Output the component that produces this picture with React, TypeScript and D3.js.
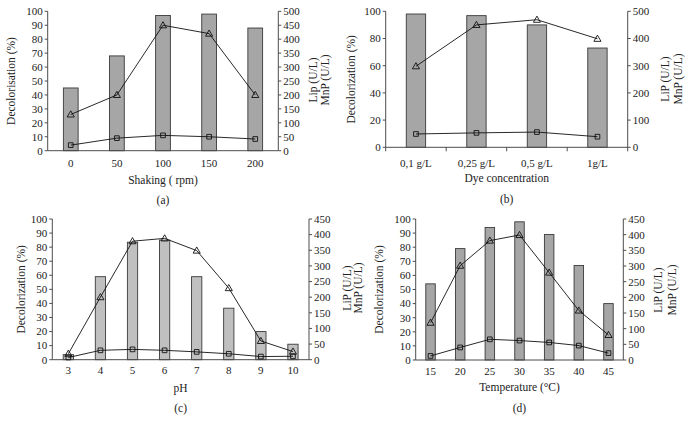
import React from "react";
import * as d3 from "d3";

// ---------- data ----------
const aCategories = ["0", "50", "100", "150", "200"];
const aDecol = [45, 68, 97, 98, 88];
const aLiP = [130, 200, 450, 420, 200];
const aMnP = [20, 45, 55, 50, 42];

const bCategories = ["0,1 g/L", "0,25 g/L", "0,5 g/L", "1g/L"];
const bDecol = [98, 96.8, 90, 73];
const bLiP = [298, 450, 469, 399];
const bMnP = [49, 53, 56, 39];

const cCategories = ["3", "4", "5", "6", "7", "8", "9", "10"];
const cDecol = [3.6, 59, 83.5, 85, 59, 36.6, 20, 11];
const cLiP = [19, 200, 379, 388, 349, 229, 60, 26];
const cMnP = [7, 30, 33, 30, 25, 19, 10, 11];

const dCategories = ["15", "20", "25", "30", "35", "40", "45"];
const dDecol = [54, 79, 94, 98, 89, 67, 40];
const dLiP = [119, 301, 381, 399, 279, 158, 80];
const dMnP = [13, 40, 66, 62, 56, 46, 22];

const leftTicksA = d3.range(0, 101, 10);
const rightTicksA = d3.range(0, 501, 50);
const leftTicksB = d3.range(0, 101, 20);
const rightTicksB = d3.range(0, 501, 100);
const leftTicksCD = d3.range(0, 101, 10);
const rightTicksCD = d3.range(0, 451, 50);

// ---------- layout ----------
type Panel = {
  cats: string[];
  decol: number[];
  lip: number[];
  mnp: number[];
  leftTicks: number[];
  rightTicks: number[];
  rightMax: number;
  x0: number; x1: number; y0: number; y1: number;
  barFill: string;
  xTicks: boolean;
  tickLabelY: number;
  xTitle: string; xTitleY: number;
  caption: string; captionY: number;
  yTitle: string; yTitleX: number;
  rTitle1: string; rTitle2: string; rTitleX1: number; rTitleX2: number; rTitleY: number;
};

const panels: Panel[] = [
  {
    cats: aCategories, decol: aDecol, lip: aLiP, mnp: aMnP,
    leftTicks: leftTicksA, rightTicks: rightTicksA, rightMax: 500,
    x0: 47.7, x1: 278.3, y0: 11.3, y1: 150.7,
    barFill: "#a6a6a6", xTicks: false, tickLabelY: 163,
    xTitle: "Shaking ( rpm)", xTitleY: 180,
    caption: "(a)", captionY: 200,
    yTitle: "Decolorisation (%)", yTitleX: 11,
    rTitle1: "Lip (U/L)", rTitle2: "MnP (U/L)", rTitleX1: 312.5, rTitleX2: 324.5, rTitleY: 80,
  },
  {
    cats: bCategories, decol: bDecol, lip: bLiP, mnp: bMnP,
    leftTicks: leftTicksB, rightTicks: rightTicksB, rightMax: 500,
    x0: 385.7, x1: 627.7, y0: 11.3, y1: 147.3,
    barFill: "#a6a6a6", xTicks: true, tickLabelY: 163,
    xTitle: "Dye concentration", xTitleY: 178,
    caption: "(b)", captionY: 199,
    yTitle: "Decolorization (%)", yTitleX: 351,
    rTitle1: "LiP (U/L)", rTitle2: "MnP (U/L)", rTitleX1: 665, rTitleX2: 678, rTitleY: 79,
  },
  {
    cats: cCategories, decol: cDecol, lip: cLiP, mnp: cMnP,
    leftTicks: leftTicksCD, rightTicks: rightTicksCD, rightMax: 450,
    x0: 52.3, x1: 309, y0: 219, y1: 359.7,
    barFill: "#c0c0c0", xTicks: false, tickLabelY: 370.5,
    xTitle: "pH", xTitleY: 387.5,
    caption: "(c)", captionY: 407.7,
    yTitle: "Decolorization (%)", yTitleX: 21,
    rTitle1: "LiP (U/L)", rTitle2: "MnP (U/L)", rTitleX1: 346.7, rTitleX2: 357.5, rTitleY: 288,
  },
  {
    cats: dCategories, decol: dDecol, lip: dLiP, mnp: dMnP,
    leftTicks: leftTicksCD, rightTicks: rightTicksCD, rightMax: 450,
    x0: 415.7, x1: 623.3, y0: 219, y1: 360,
    barFill: "#a6a6a6", xTicks: false, tickLabelY: 371,
    xTitle: "Temperature (°C)", xTitleY: 386.7,
    caption: "(d)", captionY: 407.7,
    yTitle: "Decolorization (%)", yTitleX: 379.3,
    rTitle1: "LiP (U/L)", rTitle2: "MnP (U/L)", rTitleX1: 658.3, rTitleX2: 671.7, rTitleY: 290,
  },
];

const FONT = "'Liberation Serif', 'Times New Roman', serif";
const AXIS = "#4d4d4d";
const TXT = "#222";

function ChartPanel({ p }: { p: Panel }) {
  const x = d3.scaleBand<string>().domain(p.cats).range([p.x0, p.x1]).paddingInner(0).paddingOuter(0);
  const yL = d3.scaleLinear().domain([0, 100]).range([p.y1, p.y0]);
  const yR = d3.scaleLinear().domain([0, p.rightMax]).range([p.y1, p.y0]);
  const bw = x.bandwidth() * 0.32;
  const cx = (c: string) => (x(c) as number) + x.bandwidth() / 2;
  const line = d3.line<number>().x((_, i) => cx(p.cats[i])).y((v) => yR(v));
  const midX = (p.x0 + p.x1) / 2;
  const midY = (p.y0 + p.y1) / 2;
  const tri = d3.symbol().type(d3.symbolTriangle).size(22)();
  const sq = d3.symbol().type(d3.symbolSquare).size(22)();

  return (
    <g fontFamily={FONT} fill={TXT}>
      {/* bars */}
      {p.decol.map((v, i) => (
        <rect
          key={"b" + i}
          x={cx(p.cats[i]) - bw / 2}
          y={yL(v)}
          width={bw}
          height={yL(0) - yL(v)}
          fill={p.barFill}
          stroke="#3a3a3a"
          strokeWidth={0.9}
        />
      ))}
      {/* axes */}
      <line x1={p.x0} x2={p.x0} y1={p.y0} y2={p.y1} stroke={AXIS} strokeWidth={1} />
      <line x1={p.x1} x2={p.x1} y1={p.y0} y2={p.y1} stroke={AXIS} strokeWidth={1} />
      <line x1={p.x0} x2={p.x1} y1={p.y1} y2={p.y1} stroke={AXIS} strokeWidth={1} />
      {p.leftTicks.map((t) => (
        <g key={"l" + t}>
          <line x1={p.x0 - 3} x2={p.x0} y1={yL(t)} y2={yL(t)} stroke={AXIS} />
          <text x={p.x0 - 5} y={yL(t)} dy="0.35em" textAnchor="end" fontSize={11}>{t}</text>
        </g>
      ))}
      {p.rightTicks.map((t) => (
        <g key={"r" + t}>
          <line x1={p.x1} x2={p.x1 + 3} y1={yR(t)} y2={yR(t)} stroke={AXIS} />
          <text x={p.x1 + 5} y={yR(t)} dy="0.35em" textAnchor="start" fontSize={11}>{t}</text>
        </g>
      ))}
      {p.xTicks &&
        [...p.cats.map((c) => x(c) as number), p.x1].map((v, i) => (
          <line key={"xt" + i} x1={v} x2={v} y1={p.y1} y2={p.y1 + 4} stroke={AXIS} />
        ))}
      {p.cats.map((c) => (
        <text key={"xl" + c} x={cx(c)} y={p.tickLabelY} dy="0.35em" textAnchor="middle" fontSize={11}>{c}</text>
      ))}
      {/* lines */}
      <path d={line(p.lip) || ""} fill="none" stroke="#111" strokeWidth={0.9} />
      <path d={line(p.mnp) || ""} fill="none" stroke="#111" strokeWidth={0.9} />
      {p.lip.map((v, i) => (
        <path key={"t" + i} d={tri || ""} transform={`translate(${cx(p.cats[i])},${yR(v) + 0.5})`} fill="none" stroke="#111" strokeWidth={0.9} />
      ))}
      {p.mnp.map((v, i) => (
        <path key={"s" + i} d={sq || ""} transform={`translate(${cx(p.cats[i])},${yR(v)})`} fill="none" stroke="#111" strokeWidth={0.9} />
      ))}
      {/* titles */}
      <text x={midX} y={p.xTitleY} dy="0.35em" textAnchor="middle" fontSize={11.5}>{p.xTitle}</text>
      <text x={midX} y={p.captionY} dy="0.35em" textAnchor="middle" fontSize={11.5}>{p.caption}</text>
      <text transform={`translate(${p.yTitleX},${midY}) rotate(-90)`} dy="0.35em" textAnchor="middle" fontSize={11.5}>{p.yTitle}</text>
      <text transform={`translate(${p.rTitleX1},${p.rTitleY}) rotate(-90)`} dy="0.35em" textAnchor="middle" fontSize={11.5}>{p.rTitle1}</text>
      <text transform={`translate(${p.rTitleX2},${p.rTitleY}) rotate(-90)`} dy="0.35em" textAnchor="middle" fontSize={11.5}>{p.rTitle2}</text>
    </g>
  );
}

export default function App() {
  return (
    <svg
      width={689}
      height={429}
      viewBox="0 0 689 429"
      style={{ position: "absolute", left: 0, top: 0, background: "#fff" }}
    >
      <rect x={0} y={0} width={689} height={429} fill="#fff" />
      {panels.map((p, i) => (
        <ChartPanel key={i} p={p} />
      ))}
    </svg>
  );
}
